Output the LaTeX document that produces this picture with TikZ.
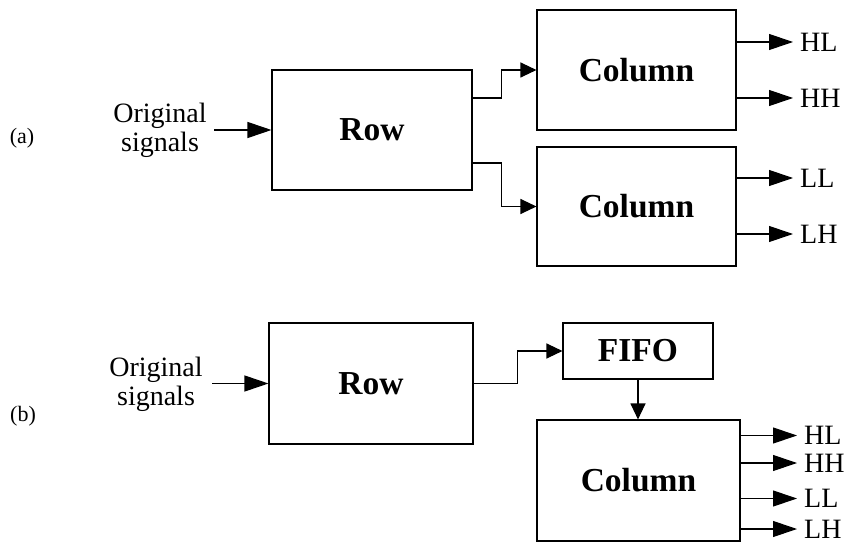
\documentclass[tikz,border=0pt]{standalone}
\usepackage{fontspec}
\setmainfont{Liberation Serif}
\usetikzlibrary{arrows.meta}
\begin{document}
\begin{tikzpicture}[x=1pt,y=-1pt,
  box/.style={draw, line width=1.1pt, rectangle, inner sep=0pt, font=\fontsize{33.5}{37}\selectfont\bfseries},
  lbl/.style={font=\fontsize{28}{29}\selectfont, align=center, inner sep=0pt},
  outlbl/.style={font=\fontsize{28}{29}\selectfont, inner xsep=7pt, inner ysep=0pt, anchor=west},
  tag/.style={font=\fontsize{22}{24}\selectfont, inner sep=0pt},
  conn/.style={line width=1.1pt},
  bigarr/.style={conn, -{Triangle[length=24pt,width=16pt]}},
  smallarr/.style={conn, -{Triangle[length=16pt,width=15pt]}}]
\useasboundingbox (0,0) rectangle (848,545);

% ---------- (a) ----------
\node[tag] (tagA) at (22,138) {(a)};
\node[lbl] (origA) at (160,130) {Original\\signals};
\node[box, minimum width=200pt, minimum height=120pt] (rowA) at (372,130) {Row};
\node[box, minimum width=199pt, minimum height=120pt] (colA1) at (636.5,70) {Column};
\node[box, minimum width=199pt, minimum height=119pt] (colA2) at (636.5,206.5) {Column};
\coordinate (inA) at (214,130);
\draw[bigarr] (inA) -- (rowA.west);
\draw[smallarr] ([yshift=32pt]rowA.east) -- ++(29,0) |- (colA1.west);
\draw[smallarr] ([yshift=-33pt]rowA.east) -- ++(29,0) |- (colA2.west);

\node[outlbl] (hlA) at (793,42) {HL};
\node[outlbl] (hhA) at (793,98) {HH};
\node[outlbl] (llA) at (793,178) {LL};
\node[outlbl] (lhA) at (793,234) {LH};
\draw[bigarr] (colA1.east |- hlA.west) -- (hlA.west);
\draw[bigarr] (colA1.east |- hhA.west) -- (hhA.west);
\draw[bigarr] (colA2.east |- llA.west) -- (llA.west);
\draw[bigarr] (colA2.east |- lhA.west) -- (lhA.west);

% ---------- (b) ----------
\node[tag] (tagB) at (23,416) {(b)};
\node[lbl] (origB) at (156,384) {Original\\signals};
\node[box, minimum width=204pt, minimum height=121pt] (rowB) at (371,383.5) {Row};
\node[box, minimum width=150pt, minimum height=56pt] (fifo) at (638,351) {FIFO};
\node[box, minimum width=203pt, minimum height=121pt] (colB) at (638.5,480.5) {Column};
\coordinate (inB) at (212,383.5);
\draw[bigarr] (inB) -- (rowB.west);
\draw[smallarr] (rowB.east) -- ++(44,0) |- (fifo.west);
\draw[smallarr] (fifo.south) -- (fifo.south |- colB.north);

\node[outlbl] (hlB) at (797,435.5) {HL};
\node[outlbl] (hhB) at (797,463) {HH};
\node[outlbl] (llB) at (797,498.5) {LL};
\node[outlbl] (lhB) at (797,529) {LH};
\draw[bigarr] (colB.east |- hlB.west) -- (hlB.west);
\draw[bigarr] (colB.east |- hhB.west) -- (hhB.west);
\draw[bigarr] (colB.east |- llB.west) -- (llB.west);
\draw[bigarr] (colB.east |- lhB.west) -- (lhB.west);
\end{tikzpicture}
\end{document}
